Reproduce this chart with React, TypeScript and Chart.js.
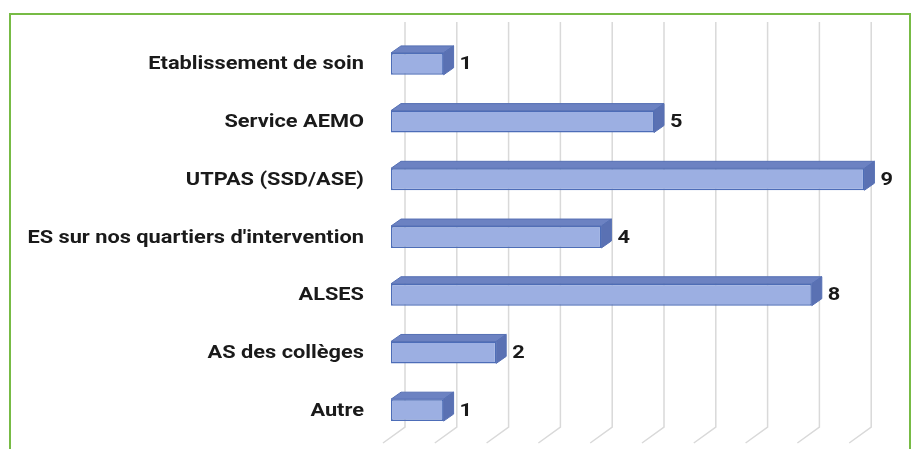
import React, { useEffect, useRef } from "react";
import { Chart, registerables } from "chart.js";

Chart.register(...registerables);

const categories = [
  "Etablissement de soin",
  "Service AEMO",
  "UTPAS (SSD/ASE)",
  "ES sur nos quartiers d'intervention",
  "ALSES",
  "AS des collèges",
  "Autre",
];
const values = [1, 5, 9, 4, 8, 2, 1];
const gridValues = [0, 1, 2, 3, 4, 5, 6, 7, 8, 9];

const FONT = "Roboto, 'Liberation Sans', Arial, sans-serif";
const DEPTH_X = 10;
const DEPTH_Y = -7;
const STRETCH = 1.21;

function stretchedText(ctx: any, text: string, x: number, y: number, align: "left" | "right") {
  ctx.save();
  ctx.translate(x, y);
  ctx.scale(STRETCH, 1);
  ctx.textAlign = align;
  ctx.textBaseline = "middle";
  ctx.fillText(text, 0, 0);
  ctx.restore();
}

const threeD = {
  id: "threeD",
  beforeDatasetsDraw(chart: any) {
    const ctx = chart.ctx;
    const xs = chart.scales.x;
    const top = 22;
    const bottom = 427;
    ctx.save();
    ctx.strokeStyle = "#d9d9d9";
    ctx.lineWidth = 1.5;
    gridValues.forEach((v) => {
      const front = xs.getPixelForValue(v);
      const xb = front + 14 - v * 0.8;
      ctx.beginPath();
      ctx.moveTo(xb, top);
      ctx.lineTo(xb, bottom);
      ctx.lineTo(xb - 22, bottom + 16);
      ctx.stroke();
    });
    ctx.restore();
  },
  afterDatasetsDraw(chart: any) {
    const ctx = chart.ctx;
    const meta = chart.getDatasetMeta(0);
    const ys = chart.scales.y;
    ctx.save();
    // category labels
    ctx.fillStyle = "#1a1a1a";
    ctx.font = "bold 18px " + FONT;
    categories.forEach((c, i) => {
      stretchedText(ctx, c, ys.right - 27, ys.getPixelForValue(i) + 1, "right");
    });
    meta.data.forEach((bar: any, i: number) => {
      const h = bar.height;
      const x0 = bar.base;
      const x1 = bar.x;
      const yt = bar.y - h / 2;
      const yb = bar.y + h / 2;
      // top face
      ctx.beginPath();
      ctx.moveTo(x0, yt);
      ctx.lineTo(x0 + DEPTH_X, yt + DEPTH_Y);
      ctx.lineTo(x1 + DEPTH_X, yt + DEPTH_Y);
      ctx.lineTo(x1, yt);
      ctx.closePath();
      ctx.fillStyle = "#6c82c2";
      ctx.fill();
      ctx.strokeStyle = "#5670b4";
      ctx.lineWidth = 1;
      ctx.stroke();
      // side face
      ctx.beginPath();
      ctx.moveTo(x1, yt);
      ctx.lineTo(x1 + DEPTH_X, yt + DEPTH_Y);
      ctx.lineTo(x1 + DEPTH_X, yb + DEPTH_Y);
      ctx.lineTo(x1, yb);
      ctx.closePath();
      ctx.fillStyle = "#5a71b3";
      ctx.fill();
      ctx.stroke();
      // value label
      ctx.fillStyle = "#1a1a1a";
      ctx.font = "bold 18px " + FONT;
      stretchedText(ctx, String(values[i]), x1 + DEPTH_X + 6, bar.y + 1, "left");
    });
    ctx.restore();
  },
};

export default function App() {
  const ref = useRef<HTMLCanvasElement>(null);
  useEffect(() => {
    const canvas = ref.current!;
    const ctx = canvas.getContext("2d")!;
    const chart = new Chart(ctx, {
      type: "bar",
      data: {
        labels: categories,
        datasets: [
          {
            data: values,
            backgroundColor: (c: any) => {
              const ch = c.chart;
              const el = ch.getDatasetMeta(0).data[c.dataIndex] as any;
              if (!el || el.y === undefined) return "#9cafe2";
              const g = ch.ctx.createLinearGradient(0, el.y - 11, 0, el.y + 11);
              g.addColorStop(0, "#a9b9e9");
              g.addColorStop(1, "#8599d5");
              return g;
            },
            borderColor: "#4d6db8",
            borderWidth: 1.5,
            borderSkipped: false,
            barPercentage: 0.38,
            categoryPercentage: 1,
          },
        ],
      },
      options: {
        indexAxis: "y",
        animation: false,
        responsive: false,
        maintainAspectRatio: false,
        layout: { padding: { left: 0, right: 0, top: 35, bottom: 10 } },
        plugins: { legend: { display: false }, tooltip: { enabled: false } },
        scales: {
          x: {
            display: false,
            min: 0,
            max: 10,
          },
          y: {
            grid: { display: false },
            border: { display: false },
            ticks: { display: false },
            afterFit(scale: any) {
              scale.width = 391;
            },
          },
        },
      },
      plugins: [threeD],
    });
    return () => chart.destroy();
  }, []);

  return (
    <div style={{ position: "absolute", left: 0, top: 0, width: 917, height: 449, background: "#fff", overflow: "hidden" }}>
      <div
        style={{
          position: "absolute",
          left: 9,
          top: 13,
          width: 902,
          height: 460,
          border: "2.5px solid #77bb45",
          boxSizing: "border-box" as any,
        }}
      />
      <canvas ref={ref} width={917} height={449} style={{ position: "absolute", left: 0, top: 0 }} />
    </div>
  );
}
